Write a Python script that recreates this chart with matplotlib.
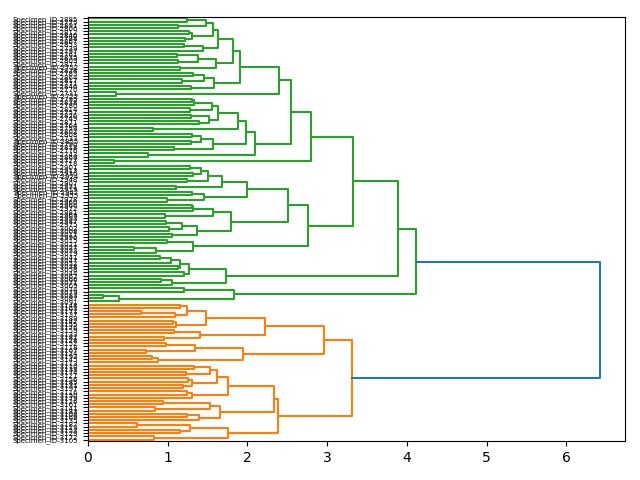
import matplotlib
matplotlib.use("Agg")
import matplotlib.pyplot as plt

# ============================================================
# DADOS: nós = (altura, filho_de_cima, filho_de_baixo), folhas = id
# ============================================================

LABEL_PREFIX = "Specimen_ID"

# --- cluster verde ---
green_top_a1 = (1.63,
                (1.57, (1.48, (1.24, 2885, 2775), (1.13, 2891, 2806)),
                       (1.30, (1.27, 2812, 2840), (1.22, 2788, 2867))),
                (1.44, (1.21, 2853, 2739), 2797))
green_top_a2 = (1.60, (1.38, (1.12, 2761, 2835), (1.13, 2809, 2877)),
                (1.16, 2752, 2828))
green_top_b = (1.58, (1.46, (1.32, 2783, 2864), (1.18, 2817, 2771)),
               (1.29, 2846, 2770))
green_top = (1.91, (1.82, green_top_a1, green_top_a2), green_top_b)

green_mid_c1 = (1.63,
                (1.55, (1.33, (1.30, 2795, 2838), 2780), (1.28, 2814, 2757)),
                (1.52, (1.29, 2826, 2749), (1.39, 2871, 2764)))
green_mid_c2 = (1.57, (1.42, (1.30, 2808, 2733), (1.29, 2855, 2790)),
                (1.08, 2818, 2776))
green_mid = (2.09, (1.98, (1.88, green_mid_c1, (0.82, 2759, 2802)), green_mid_c2),
             (0.75, 2743, 2869))

green_upper = (2.80,
               (2.55, (2.40, green_top, (0.35, 2731, 2722)), green_mid),
               (0.33, 2727, 2718))

green_d = (2.00,
           (1.68, (1.51, (1.42, (1.28, 2901, 2913), (1.32, 2936, 2924)),
                         (1.24, 2948, 2907)),
                  (1.10, 2931, 2919)),
           (1.46, (1.30, 2942, 2955), (0.99, 2928, 2960)))
green_e = (1.79,
           (1.57, (1.32, (1.30, 2966, 2972), 2981), (0.97, 2969, 2993)),
           (1.37, (1.18, (0.98, 2987, 2975), (1.02, 3002, 3008)),
                  (1.05, 3011, 2996)))
green_g = (1.32, (0.99, 3015, 3021), (0.85, (0.58, 3027, 3033), 3019))
green_lower = (2.76, (2.51, green_d, green_e), green_g)

green_i = (1.73,
           (1.27, (1.15, (1.04, (0.90, 3041, 3047), 3052), (1.13, 3038, 3058)),
                  (1.21, 3044, 3062)),
           (1.05, (0.92, 3066, 3071), 3069))
green_j = (1.83, (1.20, 3074, 3079), (0.39, (0.19, 3083, 3087), 3091))

green = (4.11, (3.89, (3.32, green_upper, green_lower), green_i), green_j)

# --- cluster laranja ---
orange_k = (2.22,
            (1.48, (1.24, (1.15, 3148, 3163), (1.09, (0.67, 3171, 3137), 3189)),
                   (1.11, (1.07, 3142, 3155), 3176)),
            (1.40, (1.08, 3159, 3133), (0.95, 3181, 3128)))
orange_l = (1.95, (1.34, (0.98, 3152, 3118), (0.73, 3167, 3124)),
            (0.88, (0.80, 3193, 3145), 3113))
orange_n1 = (1.76,
             (1.62, (1.53, (1.33, 3110, 3138), (1.23, 3174, 3121)),
                    (1.31, (1.25, 3156, 3185), (1.19, 3131, 3197))),
             (1.30, (1.24, 3116, 3150), 3179))
orange_n2 = (1.65, (1.53, (0.94, 3126, 3161), (0.84, 3141, 3183)),
             (1.39, (1.24, 3108, 3169), 3135))
orange_p = (1.76, (1.28, (0.61, 3187, 3119), (1.15, 3153, 3129)),
            (0.83, 3172, 3105))

orange = (3.31, (2.96, orange_k, orange_l),
          (2.39, (2.33, orange_n1, orange_n2), orange_p))

ROOT_HEIGHT = 6.42

# ============================================================
# DESENHO
# ============================================================

order = []


def collect(node):
    if isinstance(node, int):
        order.append(node)
        return
    collect(node[1])
    collect(node[2])


collect(green)
collect(orange)
n = len(order)
ypos = {leaf: 10 * (n - 1 - k) + 5 for k, leaf in enumerate(order)}


def draw(ax, node, color):
    """Desenha o nó em forma de U e devolve (y, altura)"""
    if isinstance(node, int):
        return ypos[node], 0.0
    h, a, b = node
    ya, ha = draw(ax, a, color)
    yb, hb = draw(ax, b, color)
    ax.plot([ha, h, h, hb], [ya, ya, yb, yb], color=color, linewidth=1.5)
    return (ya + yb) / 2, h


fig, ax = plt.subplots(figsize=(6.4, 4.8), dpi=100)

yg, hg = draw(ax, green, "C2")
yo, ho = draw(ax, orange, "C1")
ax.plot([hg, ROOT_HEIGHT, ROOT_HEIGHT, ho], [yg, yg, yo, yo],
        color="C0", linewidth=1.5)

ax.set_yticks([ypos[leaf] for leaf in order])
ax.set_yticklabels([f"{LABEL_PREFIX}-{leaf}" for leaf in order], fontsize=5)
ax.set_ylim(0, 10 * n)
ax.set_xlim(0, ROOT_HEIGHT * 1.05)

fig.subplots_adjust(left=0.1375, right=0.977, bottom=0.081, top=0.965)
fig.savefig("out.png", dpi=100)
